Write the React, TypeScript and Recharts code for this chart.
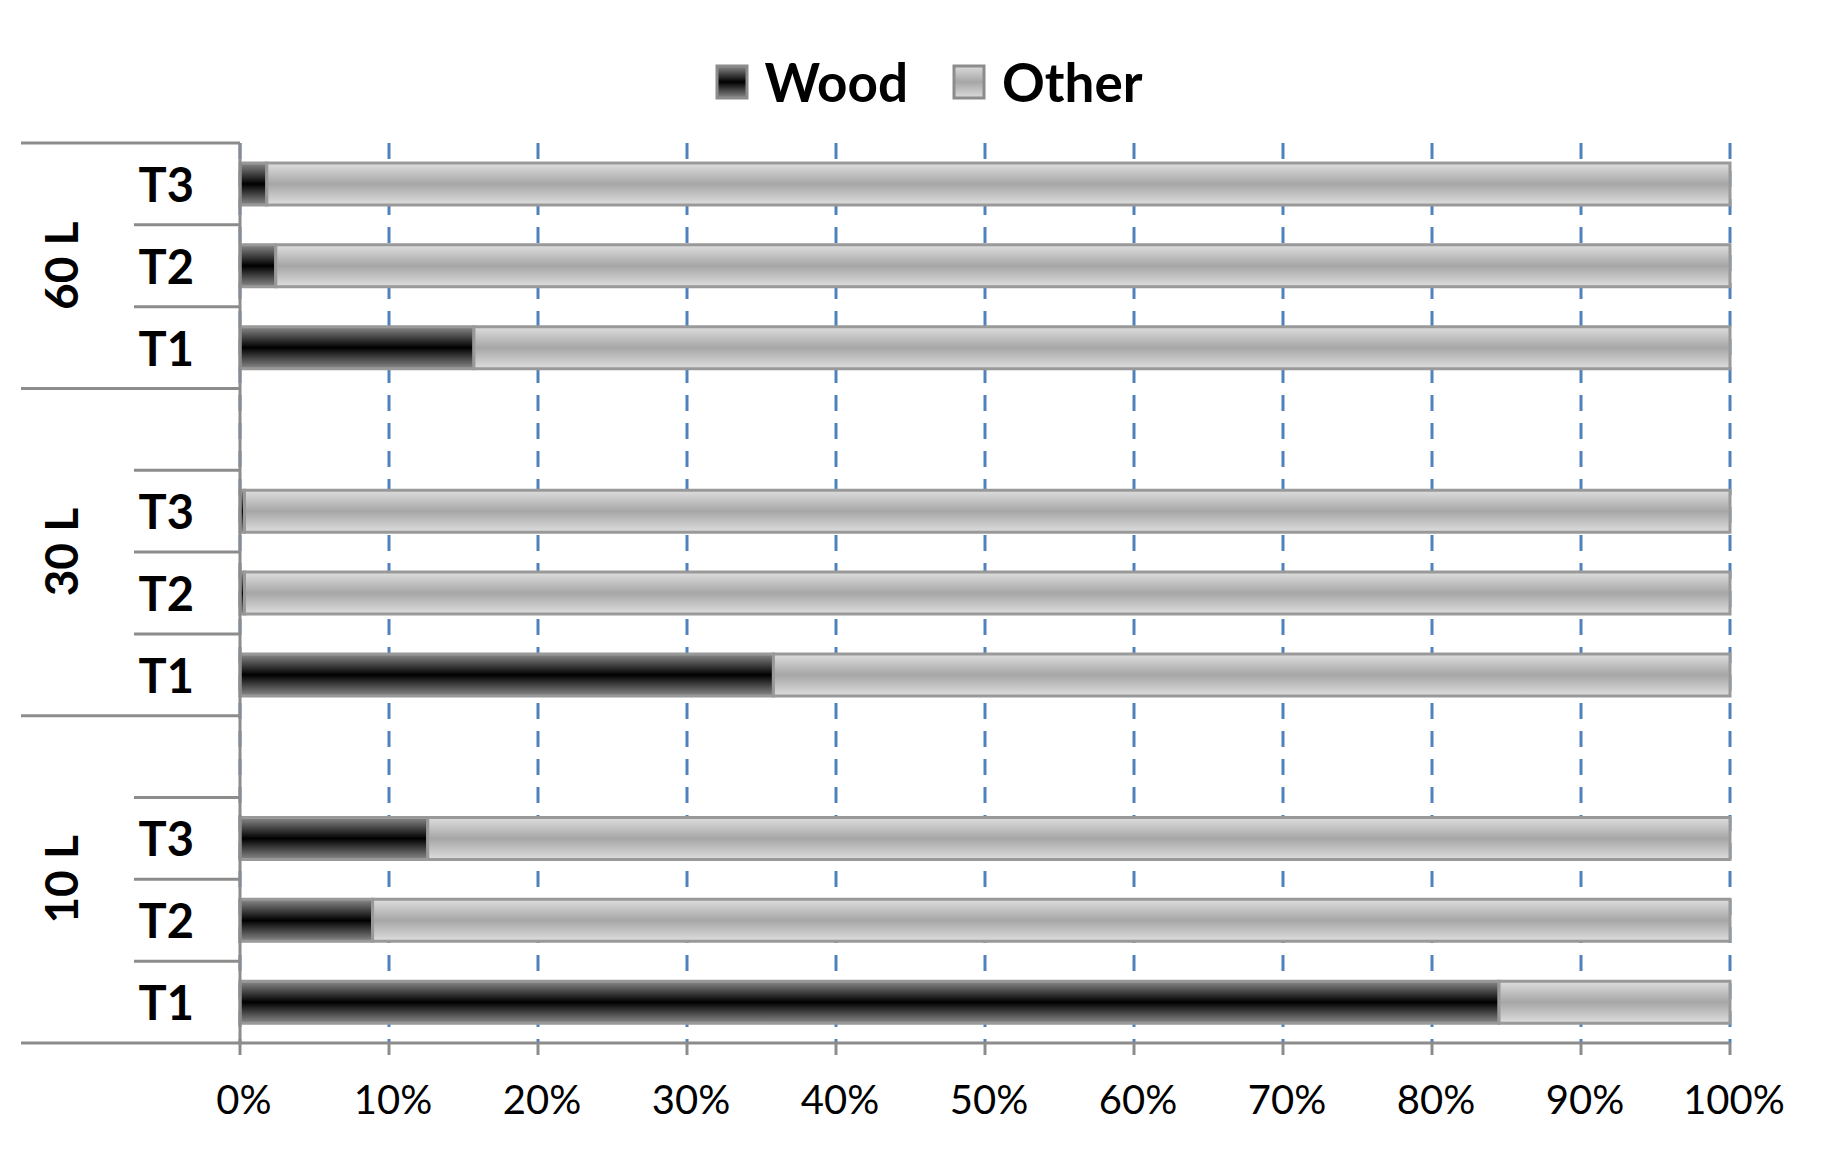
import { BarChart, Bar, XAxis, YAxis, CartesianGrid, Legend } from 'recharts';

// rows listed top to bottom, as on the chart
const rowGroup = ['60 L', '60 L', '60 L', '30 L', '30 L', '30 L', '30 L', '10 L', '10 L', '10 L', '10 L'];
const rowLabel = ['T3', 'T2', 'T1', '', 'T3', 'T2', 'T1', '', 'T3', 'T2', 'T1'];
const woodShare = [1.8, 2.4, 15.7, null, 0.3, 0.3, 35.8, null, 12.6, 8.9, 84.5];
const otherShare = [98.2, 97.6, 84.3, null, 99.7, 99.7, 64.2, null, 87.4, 91.1, 15.5];
const xTicks = [0, 10, 20, 30, 40, 50, 60, 70, 80, 90, 100];

const data = rowLabel.map((label, i) => ({
  key: `${rowGroup[i]}|${label}|${i}`,
  wood: woodShare[i],
  other: otherShare[i],
}));

const W = 1817;
const H = 1140;
const AXIS_X = 232;
const PLOT_H = 900;
const SLOT = PLOT_H / rowLabel.length;
const GRAY = '#8c8c8c';
const BOLD = 'Lato, "Open Sans", sans-serif';
const NARROW = '"Liberation Sans Narrow", Lato, sans-serif';

function RowTick(props: any) {
  const { y } = props;
  const index = props.index ?? props.payload?.index ?? 0;
  const top = y - SLOT / 2;
  const first = index === 0 || rowGroup[index] !== rowGroup[index - 1];
  const last = index === rowLabel.length - 1;
  let groupText = null;
  if (first) {
    const n = rowGroup.filter((g) => g === rowGroup[index]).length;
    const cy = top + (n * SLOT) / 2;
    groupText = (
      <text
        x={53}
        y={cy}
        transform={`rotate(-90 53 ${cy})`}
        textAnchor="middle"
        dominantBaseline="central"
        fontFamily={BOLD}
        fontWeight="bold"
        fontSize={46}
        fill="#000"
      >
        {rowGroup[index]}
      </text>
    );
  }
  return (
    <g>
      <line x1={first ? 13 : 126} x2={AXIS_X} y1={top} y2={top} stroke={GRAY} strokeWidth={3} />
      {last && <line x1={13} x2={AXIS_X} y1={top + SLOT} y2={top + SLOT} stroke={GRAY} strokeWidth={3} />}
      <text
        x={186}
        y={y}
        textAnchor="end"
        dominantBaseline="central"
        fontFamily={BOLD}
        fontWeight="bold"
        fontSize={47}
        fill="#000"
      >
        {rowLabel[index]}
      </text>
      {groupText}
    </g>
  );
}

function Swatch({ dark }: { dark: boolean }) {
  const id = dark ? 'lgWood' : 'lgOther';
  return (
    <svg width={34} height={36} style={{ display: 'block' }}>
      <defs>
        <linearGradient id={id} x1="0" y1="0" x2="0" y2="1">
          <stop offset="0%" stopColor={dark ? '#8a8a8a' : '#dcdcdc'} />
          <stop offset="50%" stopColor={dark ? '#000' : '#a6a6a6'} />
          <stop offset="100%" stopColor={dark ? '#8a8a8a' : '#dcdcdc'} />
        </linearGradient>
      </defs>
      <rect x={2} y={2} width={30} height={32} fill={`url(#${id})`} stroke={GRAY} strokeWidth={3} />
    </svg>
  );
}

function LegendContent() {
  const items = [
    { name: 'Wood', dark: true },
    { name: 'Other', dark: false },
  ];
  return (
    <div style={{ display: 'flex', justifyContent: 'center', alignItems: 'center', paddingLeft: 24 }}>
      {items.map((it) => (
        <div key={it.name} style={{ display: 'flex', alignItems: 'center', margin: '0 22px' }}>
          <Swatch dark={it.dark} />
          <span style={{ fontFamily: BOLD, fontWeight: 'bold', fontSize: 53, marginLeft: 16, color: '#000', lineHeight: 1 }}>
            {it.name}
          </span>
        </div>
      ))}
    </div>
  );
}

export default function App() {
  return (
    <BarChart
      width={W}
      height={H}
      data={data}
      layout="vertical"
      margin={{ top: 135, right: 95, bottom: 0, left: 0 }}
    >
      <defs>
        <linearGradient id="woodFill" x1="0" y1="0" x2="0" y2="1">
          <stop offset="0%" stopColor="#8a8a8a" />
          <stop offset="50%" stopColor="#000" />
          <stop offset="100%" stopColor="#8a8a8a" />
        </linearGradient>
        <linearGradient id="otherFill" x1="0" y1="0" x2="0" y2="1">
          <stop offset="0%" stopColor="#dedede" />
          <stop offset="50%" stopColor="#a6a6a6" />
          <stop offset="100%" stopColor="#dedede" />
        </linearGradient>
      </defs>
      <CartesianGrid horizontal={false} stroke="#4f81bd" strokeWidth={3} strokeDasharray="16 12" />
      <XAxis
        type="number"
        domain={[0, 100]}
        ticks={xTicks}
        tickFormatter={(v) => `${v}%`}
        height={105}
        axisLine={{ stroke: GRAY, strokeWidth: 3 }}
        tickLine={{ stroke: GRAY, strokeWidth: 3 }}
        tickSize={12}
        tickMargin={31}
        tick={{ fill: '#000', fontSize: 40, fontFamily: NARROW, dx: 4 }}
      />
      <YAxis
        type="category"
        dataKey="key"
        width={AXIS_X}
        interval={0}
        axisLine={{ stroke: GRAY, strokeWidth: 3 }}
        tickLine={false}
        tick={<RowTick />}
      />
      <Legend
        layout="horizontal"
        verticalAlign="middle"
        align="center"
        wrapperStyle={{ top: 47, left: 0, width: W }}
        content={<LegendContent />}
      />
      <Bar dataKey="wood" name="Wood" stackId="a" barSize={42} fill="url(#woodFill)" stroke="#999" strokeWidth={3} isAnimationActive={false} />
      <Bar dataKey="other" name="Other" stackId="a" barSize={42} fill="url(#otherFill)" stroke="#999" strokeWidth={3} isAnimationActive={false} />
    </BarChart>
  );
}
